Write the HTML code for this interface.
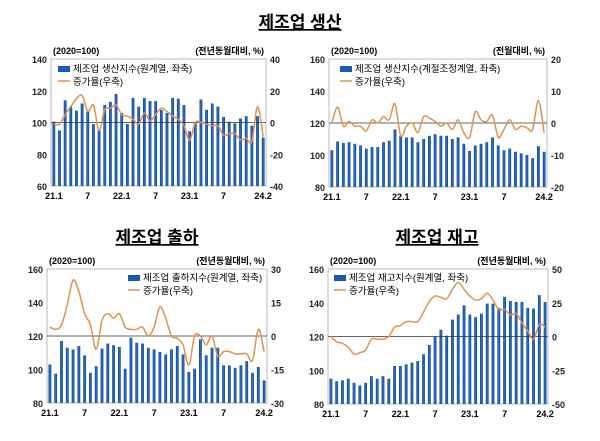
<!DOCTYPE html>
<html><head><meta charset="utf-8">
<style>
html,body{margin:0;padding:0;background:#fff;}
body{width:600px;height:436px;overflow:hidden;font-family:"Liberation Sans","Noto Sans CJK KR",sans-serif;}
svg text{font-family:"Liberation Sans","Noto Sans CJK KR",sans-serif;}
</style></head>
<body>
<svg id="c" width="600" height="436" xmlns="http://www.w3.org/2000/svg">
<defs>
<linearGradient id="bg" x1="0" x2="1" y1="0" y2="0">
<stop offset="0" stop-color="#0b3f8c"/><stop offset="0.5" stop-color="#2f74c8"/><stop offset="1" stop-color="#0b3f8c"/>
</linearGradient>
</defs>
<text x="300" y="28" text-anchor="middle" font-size="17" font-weight="bold" text-decoration="underline">제조업 생산</text>
<text x="157" y="243" text-anchor="middle" font-size="17" font-weight="bold" text-decoration="underline">제조업 출하</text>
<text x="437" y="243" text-anchor="middle" font-size="17" font-weight="bold" text-decoration="underline">제조업 재고</text>
</svg>
<script>
const xTickLabels=["21.1","7","22.1","7","23.1","7","24.2"];
const xTickIdx=[0,6,12,18,24,30,37];
const p1Bars=[100.5,95,114,110,107.5,112,107,99,95,111,113,118,106,99,115.5,110,115.5,113.5,113.5,108,106,115.5,115,111,94.5,100,114.5,108,112,110,103.5,100.5,99.5,102.5,104,98,104,90.5];
const p1Line=[-1,-1,5,10,15,17,7,11,-5,8,9,11,5,4,2,-1,6,1,5,9,7,4,2,-2,-11,0,0,-1,-2,-2,-8,-7,-7,-11,-10,-12,10,-9];
const p2Bars=[103,108.5,107.5,108,107,106,104,105,105,108,109,116,112,111,111,108,110,112,113,112,112,110,111,107,102.5,106,107,108,111,106,103,104,102,101,100,98,105.5,102];
const p2Line=[0,5,-1,0.5,-1,-1,-2.5,1,0,2,1,6,-4,-1,0,-3,2,1.5,0.5,-1,0,-2,1,-3,-4.5,3.5,1,0.5,2.5,-4.5,-2,1,-2,-1,-1.5,-2,7,-3];
const p3Bars=[103,97.5,117,113,112,114,108.5,98,102,112.5,115.5,114.5,113.5,100.5,119,116,115.5,113,112,110.5,109,112,114,109,98.5,100.5,118,108.5,113,113,102.5,102.5,101,102.5,105,98,101.5,93.5];
const p3Line=[4,3,5,14,25,20,10,5,-6,7,10,8,10,4,3,3,4,0,4,13,8,0,-1,-4,-13,0,0,-4,0,-9,-7,-7,-8,-8,-8,-11,3,-7];
const p4Bars=[95,93.5,94,95,92.5,91,92.5,96.5,95,96.5,95,102.5,102.5,103.5,104.5,105.5,109.5,115,120,124,120.5,130,133,138.5,133,131.5,133.5,139.5,139.5,137,143.5,141,140.5,140.5,137,136.5,144.5,140.5];
const p4Line=[0,-4,-5,-8,-13,-12,-10,-2,-2,-2,0,7,8,11,11,11,18,26,30,29,28,35,40,35,30,27,28,32,27,20,20,16,17,10,4,-2,9,7];

const NS="http://www.w3.org/2000/svg";
const svg=document.getElementById('c');
function mk(tag,attrs,parent){const e=document.createElementNS(NS,tag);for(const k in attrs)e.setAttribute(k,attrs[k]);(parent||svg).appendChild(e);return e;}
function panel(o){
  const g=mk('g',{});
  
  
  const n=o.bars.length, step=(o.x1-o.x0)/n;
  const xs=i=>o.x0+step*(i+0.5);
  const yL=v=>o.y1-(v-o.lmin)/(o.lmax-o.lmin)*(o.y1-o.y0);
  const yR=v=>o.y1-(v-o.rmin)/(o.rmax-o.rmin)*(o.y1-o.y0);
  mk('rect',{x:o.x0,y:o.y0,width:o.x1-o.x0,height:o.y1-o.y0,fill:'none',stroke:'#bbb','stroke-width':1},g);
  // left ticks
  for(let v=o.lmin;v<=o.lmax;v+=20){
    const t=mk('text',{x:o.x0-4,y:yL(v)+4,'text-anchor':'end','font-size':9,'font-weight':'bold',fill:'#222'},g);t.textContent=v;
    
    
  }
  for(let v=o.rmin;v<=o.rmax+0.001;v+=o.rstep){
    const t=mk('text',{x:o.x1+4,y:yR(v)+4,'text-anchor':'start','font-size':9,'font-weight':'bold',fill:'#222'},g);t.textContent=v;
    
    
  }
  const t1=mk('text',{x:o.x0+2,y:o.y0-5,'font-size':9,'font-weight':'bold'},g);t1.textContent='(2020=100)';
  
  
  const t2=mk('text',{x:o.x1-2,y:o.y0-5,'font-size':9,'font-weight':'bold','text-anchor':'end'},g);t2.textContent=o.runit;
  
  
  o.bars.forEach((v,i)=>{
    const r=mk('rect',{x:xs(i)-1.4,y:yL(v),width:2.8,height:o.y1-yL(v),fill:'url(#bg)'},g);
    
    
  });
  mk('line',{x1:o.x0,x2:o.x1,y1:yR(0),y2:yR(0),stroke:'#333','stroke-width':0.8},g);
  let d='';
  const pts=o.line.map((v,i)=>[xs(i),yR(v)]);
  d='M'+pts[0][0]+','+pts[0][1];
  for(let i=0;i<pts.length-1;i++){
    const p0=pts[Math.max(0,i-1)],p1=pts[i],p2=pts[i+1],p3=pts[Math.min(pts.length-1,i+2)];
    const c1x=p1[0]+(p2[0]-p0[0])/6,c1y=p1[1]+(p2[1]-p0[1])/6,c2x=p2[0]-(p3[0]-p1[0])/6,c2y=p2[1]-(p3[1]-p1[1])/6;
    d+=` C${c1x},${c1y} ${c2x},${c2y} ${p2[0]},${p2[1]}`;
  }
  const pl=mk('path',{d:d,fill:'none',stroke:'#e0924f','stroke-width':1.5},g);
  
  
  xTickIdx.forEach((ix,k)=>{
    const t=mk('text',{x:xs(ix),y:o.y1+13,'text-anchor':'middle','font-size':9,'font-weight':'bold'},g);t.textContent=xTickLabels[k];
    
    
  });
  const lg=mk('g',{},g);
  
  
  mk('rect',{x:o.lx,y:o.ly-6,width:12,height:6,fill:'#1a5bb0'},lg);
  const a=mk('text',{x:o.lx+15,y:o.ly,'font-size':9.5},lg);a.textContent=o.barLabel;
  mk('line',{x1:o.lx,x2:o.lx+12,y1:o.ly+9,y2:o.ly+9,stroke:'#e0924f','stroke-width':1.5},lg);
  const b=mk('text',{x:o.lx+15,y:o.ly+13,'font-size':9.5},lg);b.textContent='증가율(우축)';
}
panel({name:'panel-production-yoy',x0:51,x1:266,y0:59,y1:186,lmin:60,lmax:140,rmin:-40,rmax:40,rstep:20,runit:'(전년동월대비, %)',bars:p1Bars,line:p1Line,lx:58,ly:72,barLabel:'제조업 생산지수(원계열, 좌축)'});
panel({name:'panel-production-mom',x0:329,x1:547,y0:59,y1:187,lmin:80,lmax:160,rmin:-20,rmax:20,rstep:10,runit:'(전월대비, %)',bars:p2Bars,line:p2Line,lx:340,ly:72,barLabel:'제조업 생산지수(계절조정계열, 좌축)'});
panel({name:'panel-shipment',x0:47,x1:267,y0:269,y1:403,lmin:80,lmax:160,rmin:-30,rmax:30,rstep:15,runit:'(전년동월대비, %)',bars:p3Bars,line:p3Line,lx:128,ly:281,barLabel:'제조업 출하지수(원계열, 좌축)'});
panel({name:'panel-inventory',x0:328,x1:548,y0:269,y1:404,lmin:80,lmax:160,rmin:-50,rmax:50,rstep:25,runit:'(전년동월대비, %)',bars:p4Bars,line:p4Line,lx:334,ly:281,barLabel:'제조업 재고지수(원계열, 좌축)'});
</script>
</body></html>
